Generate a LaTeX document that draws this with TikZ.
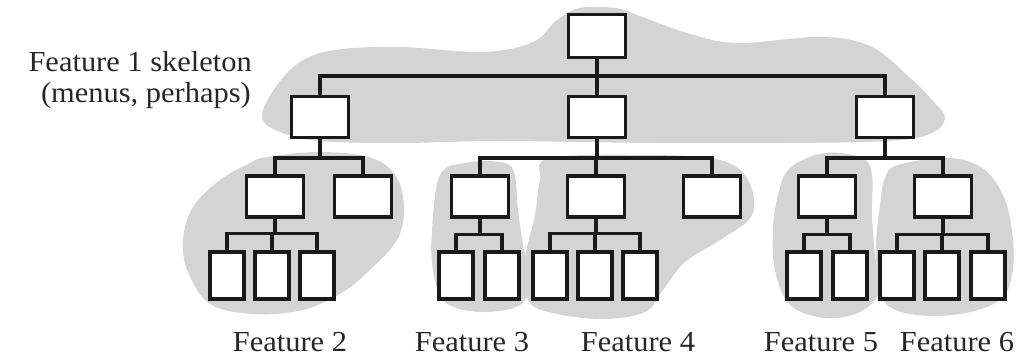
\documentclass[tikz,border=0pt]{standalone}
\usepackage{fontspec}
\newfontfamily\labfont[FakeStretch=1.05]{Liberation Serif}
\begin{document}
\begin{tikzpicture}[x=1pt,y=-1pt,
  blob/.style={fill=black!17,draw=none},
  conn/.style={draw=black!90,line width=3.4pt},
  bigbox/.style={draw=black!90,fill=white,line width=3.2pt,inner sep=0pt,minimum width=57pt,minimum height=41pt},
  leaf/.style={draw=black!90,fill=white,line width=3.2pt,inner sep=0pt,minimum width=34pt,minimum height=47pt},
  lab/.style={font=\labfont\fontsize{29}{33}\selectfont,text=black!85,inner sep=0pt}]
\useasboundingbox (0,0) rectangle (1018,358);
% shaded regions
\fill[blob] plot[smooth cycle,tension=0.6] coordinates {(262,117) (275,88) (300,62) (335,50) (400,47) (483,52) (533,42) (557,20) (580,8) (615,8) (640,16) (687,33) (737,43) (820,37) (870,46) (907,75) (932,100) (945,118) (930,134) (887,141) (787,143) (653,143) (500,141) (400,143) (320,141) (280,132)};
\fill[blob] plot[smooth cycle,tension=0.6] coordinates {(267,157) (320,152) (372,158) (397,178) (404,210) (397,240) (372,268) (343,292) (303,310) (253,314) (210,304) (188,272) (183,240) (193,207) (220,180) (250,163)};
\fill[blob] plot[smooth cycle,tension=0.6] coordinates {(440,175) (465,163) (500,162) (514,172) (518,210) (523,245) (530,280) (520,305) (480,312) (445,302) (433,270) (432,230)};
\fill[blob] plot[smooth cycle,tension=0.6] coordinates {(550,158) (650,155) (720,160) (748,180) (752,215) (720,240) (685,262) (663,290) (645,312) (603,319) (553,313) (528,300) (525,260) (535,215) (540,180)};
\fill[blob] plot[smooth cycle,tension=0.6] coordinates {(790,168) (825,153) (862,158) (872,175) (872,215) (875,255) (880,290) (860,312) (825,318) (790,305) (775,270) (773,230) (778,195)};
\fill[blob] plot[smooth cycle,tension=0.6] coordinates {(898,165) (950,158) (985,170) (1005,200) (1013,240) (1012,275) (1000,300) (960,314) (910,314) (882,298) (876,250) (880,205) (885,178)};
% boxes
\node[bigbox,minimum height=43pt] (top) at (597,36) {};
\node[bigbox] (l) at (320,117) {};
\node[bigbox] (m) at (597,117) {};
\node[bigbox] (r) at (885,117) {};
\node[bigbox] (a) at (275,196.5) {};
\node[bigbox] (b) at (363,196.5) {};
\node[bigbox] (c) at (480,196.5) {};
\node[bigbox] (d) at (596,196.5) {};
\node[bigbox] (e) at (712,196.5) {};
\node[bigbox] (f) at (827,196.5) {};
\node[bigbox] (g) at (943,196.5) {};
\node[leaf] (a1) at (227,275.5) {};
\node[leaf] (a2) at (272,275.5) {};
\node[leaf] (a3) at (317,275.5) {};
\node[leaf] (c1) at (456,275.5) {};
\node[leaf] (c2) at (502,275.5) {};
\node[leaf] (d1) at (550,275.5) {};
\node[leaf] (d2) at (595,275.5) {};
\node[leaf] (d3) at (640,275.5) {};
\node[leaf] (f1) at (804,275.5) {};
\node[leaf] (f2) at (850,275.5) {};
\node[leaf] (g1) at (897,275.5) {};
\node[leaf] (g2) at (942,275.5) {};
\node[leaf] (g3) at (988,275.5) {};
% connectors
\draw[conn] (top.south) -- ++(0,17) coordinate (j0);
\draw[conn] (l.north) |- (j0) -| (r.north);
\draw[conn] (j0) -- (m.north);
\draw[conn] (l.south) -- ++(0,19) coordinate (jl);
\draw[conn] (a.north) |- (jl) -| (b.north);
\draw[conn] (m.south) -- ++(0,19) coordinate (jm);
\draw[conn] (c.north) |- (jm) -| (e.north);
\draw[conn] (jm) -| (d.north);
\draw[conn] (r.south) -- ++(0,19) coordinate (jr);
\draw[conn] (f.north) |- (jr) -| (g.north);
\draw[conn] (a.south) -- ++(0,15) coordinate (ja);
\draw[conn] (a1.north) |- (ja) -| (a3.north);
\draw[conn] (ja) -| (a2.north);
\draw[conn] (c.south) -- ++(0,16) coordinate (jc);
\draw[conn] (c1.north) |- (jc) -| (c2.north);
\draw[conn] (d.south) -- ++(0,15) coordinate (jd);
\draw[conn] (d1.north) |- (jd) -| (d3.north);
\draw[conn] (jd) -| (d2.north);
\draw[conn] (f.south) -- ++(0,16) coordinate (jf);
\draw[conn] (f1.north) |- (jf) -| (f2.north);
\draw[conn] (g.south) -- ++(0,16) coordinate (jg);
\draw[conn] (g1.north) |- (jg) -| (g3.north);
\draw[conn] (jg) -| (g2.north);
% labels
\node[lab,anchor=base east] (t1) at (252,72) {Feature 1 skeleton};
\node[lab,anchor=base east] (t2) at (251,103) {(menus, perhaps)};
\node[lab,anchor=base] (F2) at (290,351) {Feature 2};
\node[lab,anchor=base] (F3) at (472,351) {Feature 3};
\node[lab,anchor=base] (F4) at (638,351) {Feature 4};
\node[lab,anchor=base] (F5) at (821,351) {Feature 5};
\node[lab,anchor=base] (F6) at (957,351) {Feature 6};
\end{tikzpicture}
\end{document}
